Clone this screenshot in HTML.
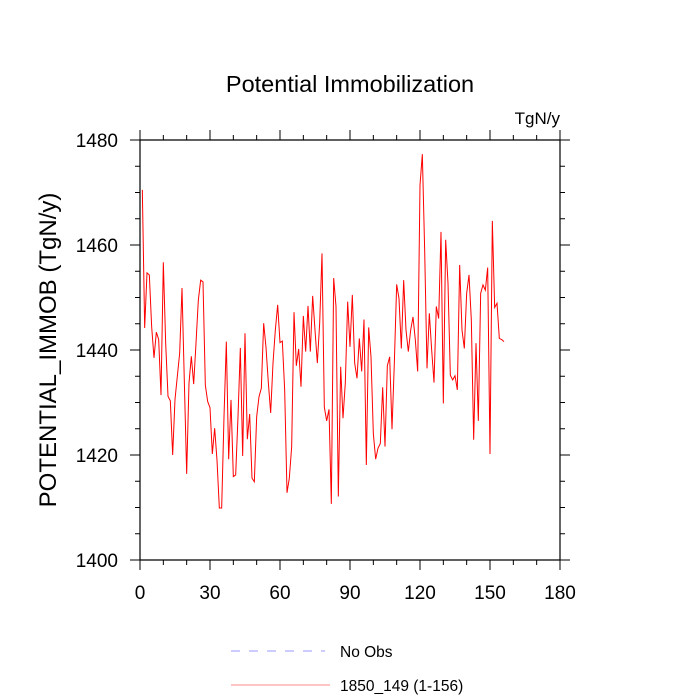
<!DOCTYPE html>
<html><head><meta charset="utf-8"><style>
body{margin:0;background:#fff;}
svg{display:block;font-family:"Liberation Sans",sans-serif;}
</style></head><body>
<svg id="chart" width="700" height="700" viewBox="0 0 700 700">
<text x="350" y="92" text-anchor="middle" font-size="23.5">Potential Immobilization</text>
<text x="560" y="124" text-anchor="end" font-size="17">TgN/y</text>
<text transform="translate(56,350) rotate(-90)" text-anchor="middle" font-size="24">POTENTIAL_IMMOB  (TgN/y)</text>
<g id="axes"></g>
<polyline id="series" fill="none" stroke="#ff0000" stroke-width="1"/>
<g>
<line x1="231" y1="651" x2="325" y2="651" stroke="#9999ff" stroke-dasharray="9,9"/>
<text x="340" y="657" font-size="15.5">No Obs</text>
<line x1="231" y1="685" x2="330" y2="685" stroke="#ff8888"/>
<text x="340" y="691" font-size="15.5">1850_149 (1-156)</text>
</g>
</svg>
<script>
const xTicks=[0,30,60,90,120,150,180];
const yTicks=[1400,1420,1440,1460,1480];
const values=[1470.5,1444.2,1454.7,1454.3,1444.4,1438.5,1443.4,1442,1431.4,1456.7,1441.3,1431.2,1430.3,1420,1430.6,1435,1439.4,1451.8,1434,1416.4,1433.7,1438.8,1433.5,1441.3,1449.5,1453.3,1453,1433.3,1430.2,1429,1420.2,1425.1,1419,1409.9,1409.9,1427.3,1441.6,1419.2,1430.5,1415.9,1416.2,1427.3,1440.4,1419.8,1443.2,1423,1427.8,1415.6,1414.9,1427.3,1431.1,1432.7,1445.1,1440.5,1433.8,1428,1437.5,1443.8,1448.6,1441.4,1441.7,1432.4,1412.8,1415.6,1421.6,1447.2,1437,1440.2,1433,1446.5,1439.7,1448.4,1439.7,1450.3,1443.8,1437.5,1445.1,1458.4,1429.1,1426.5,1428.7,1410.7,1453.7,1448.3,1412.1,1436.8,1427,1433.8,1449.2,1440.6,1450.5,1437.5,1434.6,1442.2,1435.9,1445.8,1418.1,1444.3,1438.7,1424.1,1419.2,1421.3,1422.2,1432.9,1421.6,1437,1438.7,1424.9,1437.5,1452.5,1449.8,1440.3,1453.3,1443.8,1439.7,1443.8,1446.3,1441.9,1435.9,1471.4,1477.3,1459,1436.5,1447,1440,1433.8,1448.3,1446,1462.5,1429.8,1461,1452.7,1435.2,1434.3,1435.1,1432.4,1456.2,1443.8,1440.3,1450.8,1454.3,1445.7,1422.9,1441.3,1426.5,1450.8,1452.4,1451.4,1455.7,1420.2,1464.6,1448.1,1448.9,1442.2,1442,1441.6];
const X0=140,X1=560,Y0=560,Y1=140;
function sx(v){return X0+(v-0)/(180-0)*(X1-X0);}
function sy(v){return Y0-(v-1400)/(1480-1400)*(Y0-Y1);}
const NS="http://www.w3.org/2000/svg";
const g=document.getElementById('axes');
function line(x1,y1,x2,y2,w,name){const l=document.createElementNS(NS,'line');
l.setAttribute('x1',x1);l.setAttribute('y1',y1);l.setAttribute('x2',x2);l.setAttribute('y2',y2);
l.setAttribute('stroke','#000');l.setAttribute('stroke-width',w);


g.appendChild(l);}
line(X0,Y1,X0,Y0,1.2,'y-axis-left');line(X1,Y1,X1,Y0,1.2,'y-axis-right');
line(X0,Y0,X1,Y0,1.2,'x-axis-bottom');line(X0,Y1,X1,Y1,1.2,'x-axis-top');
for(let v=0;v<=180;v+=10){const x=sx(v);const major=v%30===0;const L=major?10:5;
line(x,Y0,x,Y0+L,1,'x-tick');line(x,Y1,x,Y1-L,1,'x-tick-top');}
for(let v=1400;v<=1480;v+=5){const y=sy(v);const major=v%20===0;const L=major?10:5;
line(X0,y,X0-L,y,1,'y-tick');line(X1,y,X1+L,y,1,'y-tick-right');}
xTicks.forEach(v=>{const t=document.createElementNS(NS,'text');t.setAttribute('x',sx(v));t.setAttribute('y',599);
t.setAttribute('text-anchor','middle');t.setAttribute('font-size','19');t.textContent=v;


g.appendChild(t);});
yTicks.forEach(v=>{const t=document.createElementNS(NS,'text');t.setAttribute('x',118);t.setAttribute('y',sy(v)+7);
t.setAttribute('text-anchor','end');t.setAttribute('font-size','19');t.textContent=v;


g.appendChild(t);});
document.getElementById('series').setAttribute('points',values.map((v,i)=>sx(i+1).toFixed(2)+','+sy(v).toFixed(2)).join(' '));
</script>
</body></html>
